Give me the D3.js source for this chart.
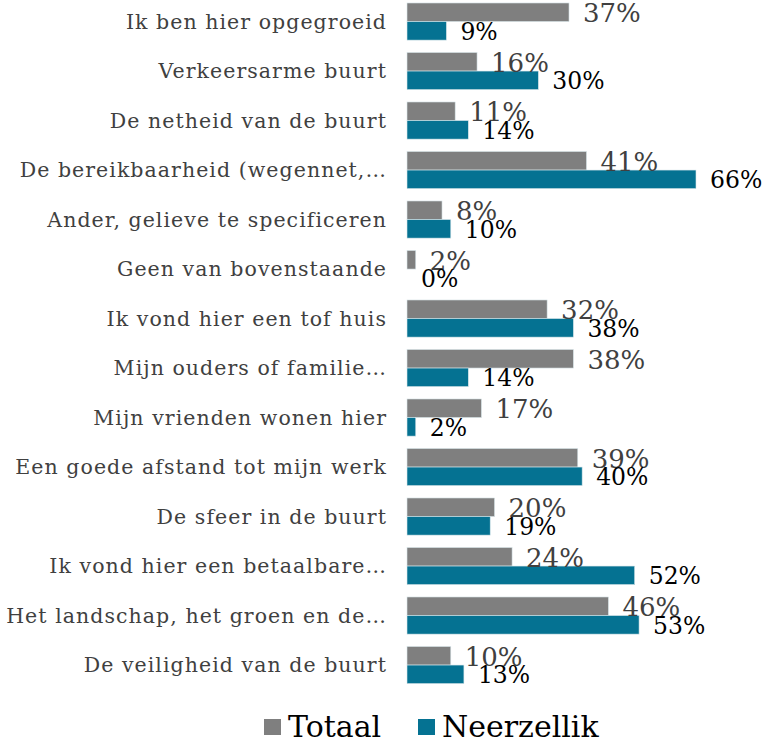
<!DOCTYPE html>
<html><head><meta charset="utf-8">
<script src="https://cdn.jsdelivr.net/npm/d3@7"></script>
<style>
html,body{margin:0;padding:0;background:#fff;}
svg{display:block;}
</style></head>
<body><svg id="chart" width="769" height="747"></svg>
<script>
const categories = [
  "Ik ben hier opgegroeid",
  "Verkeersarme buurt",
  "De netheid van de buurt",
  "De bereikbaarheid (wegennet,…",
  "Ander, gelieve te specificeren",
  "Geen van bovenstaande",
  "Ik vond hier een tof huis",
  "Mijn ouders of familie…",
  "Mijn vrienden wonen hier",
  "Een goede afstand tot mijn werk",
  "De sfeer in de buurt",
  "Ik vond hier een betaalbare…",
  "Het landschap, het groen en de…",
  "De veiligheid van de buurt"
];
const seriesNames = ["Totaal", "Neerzellik"];
const totaal =     [37, 16, 11, 41, 8, 2, 32, 38, 17, 39, 20, 24, 46, 10];
const neerzellik = [ 9, 30, 14, 66, 10, 0, 38, 14, 2, 40, 19, 52, 53, 13];
const colors = ["#7f7f7f", "#057292"];

const svg = d3.select("#chart");
const x0 = 407;
const x = d3.scaleLinear().domain([0, 66]).range([x0, 696]);
const y = d3.scaleBand().domain(categories).range([-3.2, 689.8]).paddingInner(0.25).paddingOuter(0.125);
const sub = d3.scaleBand().domain(seriesNames).range([0, y.bandwidth()]);
const font = "'DejaVu Serif', serif";

const data = categories.map((c, i) => ({cat: c, vals: [totaal[i], neerzellik[i]]}));

// category labels
svg.append("g").selectAll("text").data(categories).join("text")
  .attr("x", 387)
  .attr("y", d => y(d) + y.bandwidth() / 2)
  .attr("dy", "0.36em")
  .attr("text-anchor", "end")
  .attr("font-family", font)
  .attr("font-size", 20.5)
  .attr("letter-spacing", 1.05)
  .attr("fill", "#404040")
  .text(d => d);

const groups = svg.append("g").selectAll("g").data(data).join("g")
  .attr("transform", d => `translate(0,${y(d.cat)})`);

groups.selectAll("rect").data(d => d.vals.map((v, j) => ({v, s: seriesNames[j], j})))
  .join("rect")
  .attr("x", x0)
  .attr("y", d => sub(d.s))
  .attr("width", d => x(d.v) - x0)
  .attr("height", sub.bandwidth())
  .attr("fill", d => colors[d.j])
  .attr("stroke", "#d9e6ea")
  .attr("stroke-width", 0.6);

groups.selectAll("text").data(d => d.vals.map((v, j) => ({v, s: seriesNames[j], j})))
  .join("text")
  .attr("x", d => x(d.v) + 14)
  .attr("y", d => sub(d.s) + sub.bandwidth() / 2)
  .attr("dy", "0.38em")
  .attr("font-family", font)
  .attr("font-size", d => d.j === 0 ? 26 : 23.5)
  .attr("fill", d => d.j === 0 ? "#404040" : "#000")
  .text(d => d.v + "%");

// legend
const legend = svg.append("g");
const legendX = [264, 418];
seriesNames.forEach((s, i) => {
  legend.append("rect").attr("x", legendX[i]).attr("y", 719).attr("width", 17).attr("height", 16).attr("fill", colors[i]);
  legend.append("text").attr("x", legendX[i] + 24).attr("y", 737)
    .attr("font-family", font).attr("font-size", 30).attr("fill", "#000").text(s);
});
</script></body></html>
